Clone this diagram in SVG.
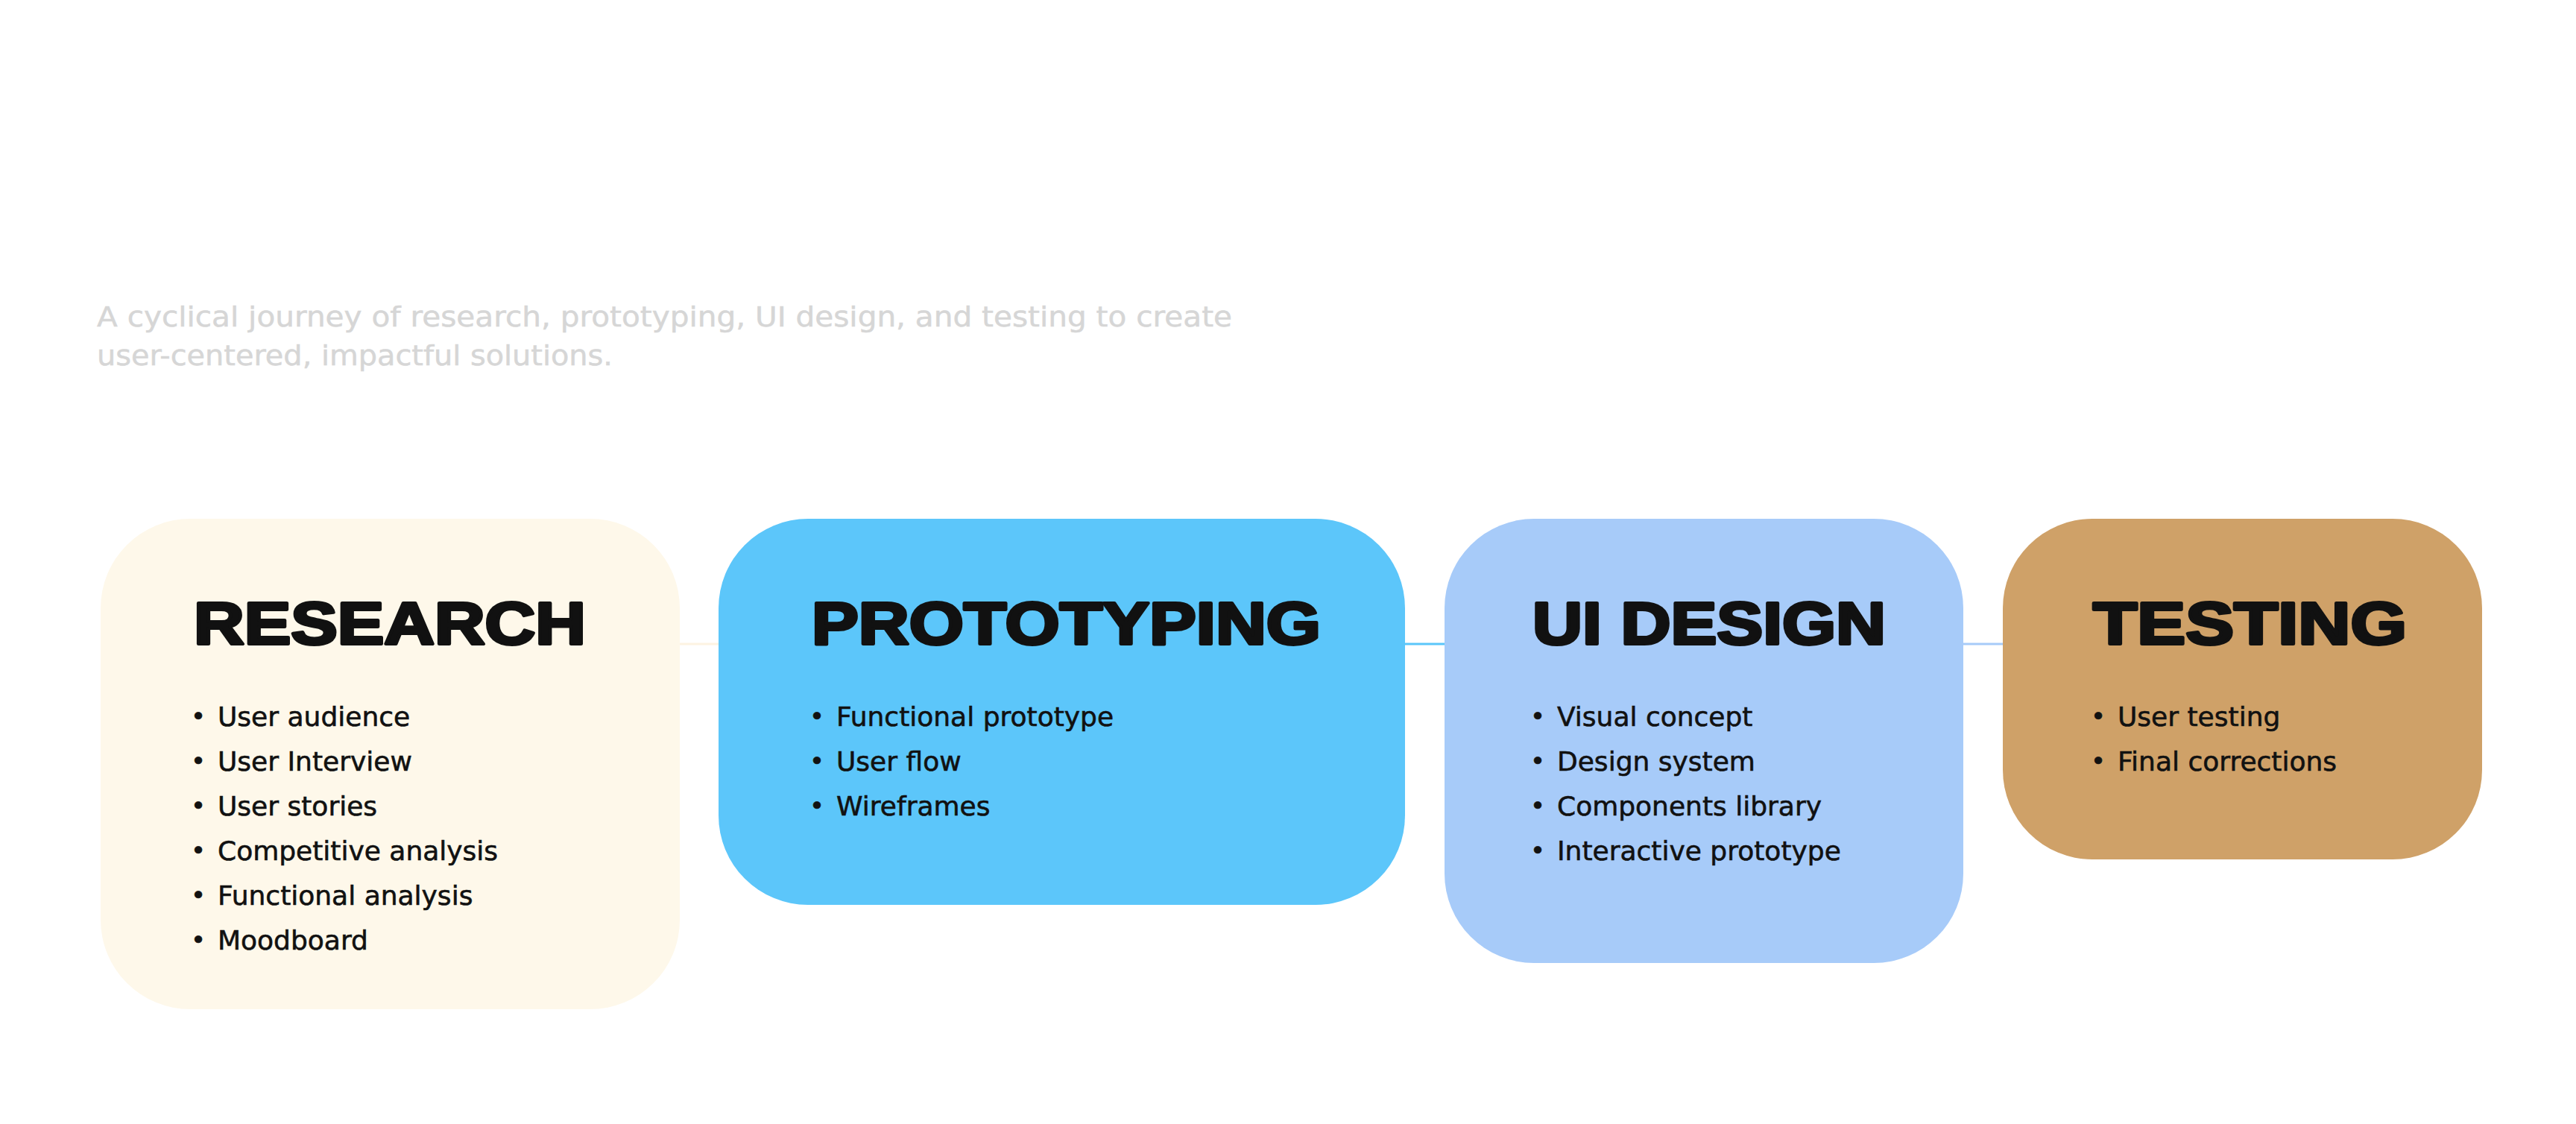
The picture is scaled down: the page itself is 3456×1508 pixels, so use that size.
<svg xmlns="http://www.w3.org/2000/svg" width="3456" height="1508" viewBox="0 0 3456 1508">
<style>
.title{font-family:"Liberation Sans",Arial,sans-serif;font-weight:700;font-size:79px;fill:#111111;stroke:#111111;stroke-width:4;stroke-linejoin:round}
.item{font-family:"DejaVu Sans",sans-serif;font-size:36px;fill:#111111;stroke:#111111;stroke-width:0.6}
.bul{font-family:"DejaVu Sans",sans-serif;font-size:34px;fill:#111111}
.sub{font-family:"DejaVu Sans",sans-serif;font-size:38px;fill:#d6d6d6;stroke:#d6d6d6;stroke-width:0.5}
.conn{stroke-width:3;fill:none}
</style>
<rect x="0" y="0" width="3456" height="1508" fill="#ffffff"/>
<text class="sub" x="130" y="438" textLength="1523" lengthAdjust="spacingAndGlyphs">A cyclical journey of research, prototyping, UI design, and testing to create</text>
<text class="sub" x="130" y="490" textLength="692" lengthAdjust="spacingAndGlyphs">user-centered, impactful solutions.</text>
<g id="connectors">
<line class="conn" x1="910" y1="864" x2="966" y2="864" stroke="#fdf3e2"/>
<line class="conn" x1="1883" y1="864" x2="1940" y2="864" stroke="#5bc6fa"/>
<line class="conn" x1="2632" y1="864" x2="2689" y2="864" stroke="#a7cbf9"/>
</g>
<g id="research">
<rect x="135" y="696" width="777" height="658" rx="120" ry="120" fill="#fef8ea"/>
<text class="title" x="260" y="864" textLength="526" lengthAdjust="spacingAndGlyphs">RESEARCH</text>
<text class="item"><tspan class="bul" x="256" y="973">•</tspan><tspan x="292" y="974">User audience</tspan></text>
<text class="item"><tspan class="bul" x="256" y="1033">•</tspan><tspan x="292" y="1034">User Interview</tspan></text>
<text class="item"><tspan class="bul" x="256" y="1093">•</tspan><tspan x="292" y="1094">User stories</tspan></text>
<text class="item"><tspan class="bul" x="256" y="1153">•</tspan><tspan x="292" y="1154">Competitive analysis</tspan></text>
<text class="item"><tspan class="bul" x="256" y="1213">•</tspan><tspan x="292" y="1214">Functional analysis</tspan></text>
<text class="item"><tspan class="bul" x="256" y="1273">•</tspan><tspan x="292" y="1274">Moodboard</tspan></text>
</g>
<g id="prototyping">
<rect x="964" y="696" width="921" height="518" rx="120" ry="120" fill="#5cc6fa"/>
<text class="title" x="1089" y="864" textLength="683" lengthAdjust="spacingAndGlyphs">PROTOTYPING</text>
<text class="item"><tspan class="bul" x="1086" y="973">•</tspan><tspan x="1122" y="974">Functional prototype</tspan></text>
<text class="item"><tspan class="bul" x="1086" y="1033">•</tspan><tspan x="1122" y="1034">User flow</tspan></text>
<text class="item"><tspan class="bul" x="1086" y="1093">•</tspan><tspan x="1122" y="1094">Wireframes</tspan></text>
</g>
<g id="ui-design">
<rect x="1938" y="696" width="696" height="596" rx="120" ry="120" fill="#a7cbf9"/>
<text class="title" x="2056" y="864" textLength="474" lengthAdjust="spacingAndGlyphs">UI DESIGN</text>
<text class="item"><tspan class="bul" x="2053" y="973">•</tspan><tspan x="2089" y="974">Visual concept</tspan></text>
<text class="item"><tspan class="bul" x="2053" y="1033">•</tspan><tspan x="2089" y="1034">Design system</tspan></text>
<text class="item"><tspan class="bul" x="2053" y="1093">•</tspan><tspan x="2089" y="1094">Components library</tspan></text>
<text class="item"><tspan class="bul" x="2053" y="1153">•</tspan><tspan x="2089" y="1154">Interactive prototype</tspan></text>
</g>
<g id="testing">
<rect x="2687" y="696" width="643" height="457" rx="120" ry="120" fill="#cfa168"/>
<text class="title" x="2808" y="864" textLength="421" lengthAdjust="spacingAndGlyphs">TESTING</text>
<text class="item"><tspan class="bul" x="2805" y="973">•</tspan><tspan x="2841" y="974">User testing</tspan></text>
<text class="item"><tspan class="bul" x="2805" y="1033">•</tspan><tspan x="2841" y="1034">Final corrections</tspan></text>
</g>
</svg>
